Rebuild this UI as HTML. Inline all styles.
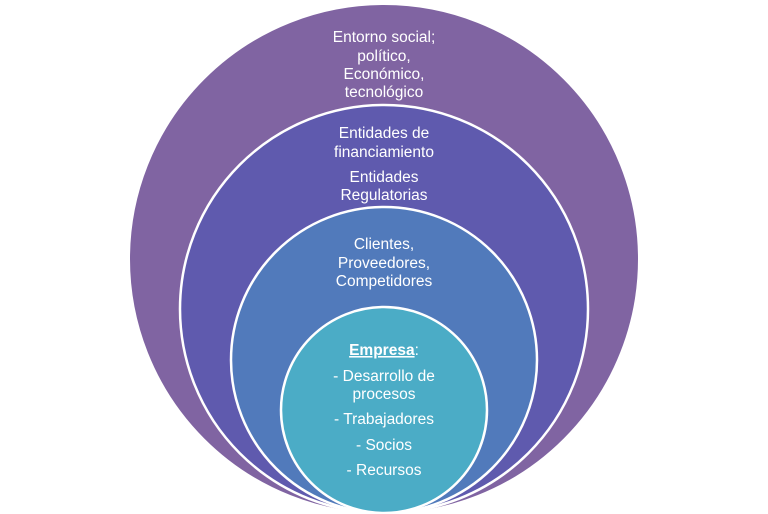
<!DOCTYPE html>
<html><head><meta charset="utf-8"><style>
html,body{margin:0;padding:0;background:#fff;width:768px;height:514px;overflow:hidden}
svg text{font-family:"Liberation Sans",sans-serif;font-size:15.5px;fill:#fff;text-anchor:middle}
</style></head><body>
<svg width="768" height="514" viewBox="0 0 768 514">
<circle cx="384" cy="259" r="255" fill="#8064A2" stroke="#fff" stroke-width="2"/>
<circle cx="384" cy="309" r="204" fill="#5F5AAE" stroke="#fff" stroke-width="2.5"/>
<circle cx="384" cy="360" r="153" fill="#517ABB" stroke="#fff" stroke-width="2.5"/>
<circle cx="384" cy="410" r="103" fill="#4BACC6" stroke="#fff" stroke-width="2.5"/>
<text x="384" y="42">Entorno social;</text>
<text x="384" y="61">político,</text>
<text x="384" y="79">Económico,</text>
<text x="384" y="97">tecnológico</text>
<text x="384" y="138">Entidades de</text>
<text x="384" y="157">financiamiento</text>
<text x="384" y="182">Entidades</text>
<text x="384" y="200">Regulatorias</text>
<text x="384" y="249">Clientes,</text>
<text x="384" y="268">Proveedores,</text>
<text x="384" y="286">Competidores</text>
<text x="384" y="355"><tspan font-weight="bold" text-decoration="underline">Empresa</tspan>:</text>
<text x="384" y="381">- Desarrollo de</text>
<text x="384" y="399">procesos</text>
<text x="384" y="424">- Trabajadores</text>
<text x="384" y="450">- Socios</text>
<text x="384" y="475">- Recursos</text>
</svg>
</body></html>
